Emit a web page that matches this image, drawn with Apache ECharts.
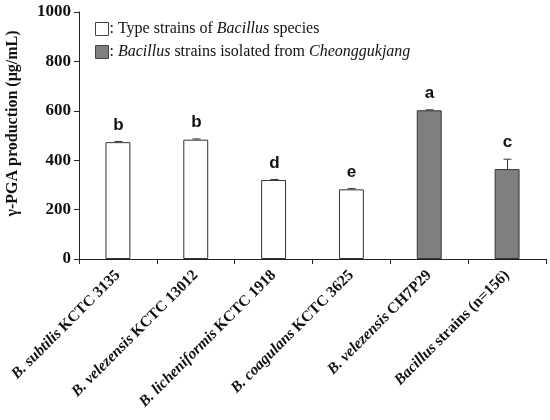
<!DOCTYPE html>
<html>
<head>
<meta charset="utf-8">
<style>
  html, body { margin: 0; padding: 0; background: #fff; }
  #main { width: 550px; height: 420px; }
</style>
</head>
<body>
<div id="main"></div>
<script src="https://cdn.jsdelivr.net/npm/echarts@6/dist/echarts.min.js"></script>
<script>
// category labels: italic part + plain part
var speciesNames = ['B. subtilis', 'B. velezensis', 'B. licheniformis', 'B. coagulans', 'B. velezensis', 'Bacillus'];
var strainNames = ['KCTC 3135', 'KCTC 13012', 'KCTC 1918', 'KCTC 3625', 'CH7P29', 'strains (n=156)'];
var categories = ['cat0', 'cat1', 'cat2', 'cat3', 'cat4', 'cat5'];
// 0 = type strain, 1 = isolated from Cheonggukjang
var groups = [0, 0, 0, 0, 1, 1];
var values = [473, 483, 320, 282, 602, 364];
var errors = [3, 3, 2, 3, 2, 40];
var letters = ['b', 'b', 'd', 'e', 'a', 'c'];
var yTicks = [0, 200, 400, 600, 800, 1000];

var serif = 'Liberation Serif';
var typeData = values.map(function (v, i) { return groups[i] === 0 ? v : '-'; });
var isoData = values.map(function (v, i) { return groups[i] === 1 ? v : '-'; });

var myChart = echarts.init(document.getElementById('main'));
myChart.setOption({
    animation: false,
    grid: { left: 79, right: 4, top: 12, bottom: 161, containLabel: false, outerBoundsMode: 'none' },
    legend: {
        orient: 'vertical',
        left: 90,
        top: 16,
        icon: 'rect',
        itemWidth: 13,
        itemHeight: 13,
        itemGap: 7,
        itemStyle: { borderColor: '#444', borderWidth: 1 },
        textStyle: {
            padding: [0, 0, 0, -4],
            rich: {
                n: { fontFamily: serif, fontSize: 16, color: '#111' },
                i: { fontFamily: serif, fontSize: 16, fontStyle: 'italic', color: '#111' }
            }
        },
        formatter: function (name) {
            if (name === 'type') return '{n|: Type strains of }{i|Bacillus}{n| species}';
            return '{n|: }{i|Bacillus}{n| strains isolated from }{i|Cheonggukjang}';
        },
        data: ['type', 'iso']
    },
    xAxis: {
        type: 'category',
        data: categories,
        axisLine: { lineStyle: { color: '#222', width: 1 } },
        axisTick: { show: true, length: 5, lineStyle: { color: '#222' } },
        axisLabel: {
            rotate: 45,
            margin: 14,
            interval: 0,
            formatter: function (v) {
                var i = categories.indexOf(v);
                return '{i|' + speciesNames[i] + '} {b|' + strainNames[i] + '}';
            },
            rich: {
                i: { fontFamily: serif, fontSize: 15.5, fontWeight: 'bold', fontStyle: 'italic', color: '#111' },
                b: { fontFamily: serif, fontSize: 15.5, fontWeight: 'bold', color: '#111' }
            }
        }
    },
    yAxis: {
        type: 'value',
        min: 0,
        max: 1000,
        interval: 200,
        name: 'γ-PGA production (μg/mL)',
        nameLocation: 'middle',
        nameGap: 58,
        nameTextStyle: { fontFamily: serif, fontSize: 16, fontWeight: 'bold', color: '#111', padding: [0, 0, 0, 24] },
        splitLine: { show: false },
        axisLine: { show: true, lineStyle: { color: '#222', width: 1 } },
        axisTick: { show: true, length: 5, lineStyle: { color: '#222' } },
        axisLabel: {
            fontFamily: serif, fontSize: 17, fontWeight: 'bold', color: '#111', margin: 8,
            formatter: function (v) { return yTicks.indexOf(v) >= 0 ? String(v) : ''; }
        }
    },
    series: [
        {
            name: 'type',
            type: 'bar',
            data: typeData,
            barWidth: '32%',
            barGap: '-100%',
            itemStyle: { color: '#ffffff', borderColor: '#333', borderWidth: 1 }
        },
        {
            name: 'iso',
            type: 'bar',
            data: isoData,
            barWidth: '32%',
            barGap: '-100%',
            itemStyle: { color: '#7f7f7f', borderColor: '#333', borderWidth: 1 }
        },
        {
            type: 'custom',
            silent: true,
            z: 5,
            data: values.map(function (v, i) { return [i, v, errors[i]]; }),
            renderItem: function (params, api) {
                var i = api.value(0);
                var top = api.coord([i, api.value(1) + api.value(2)]);
                var base = api.coord([i, api.value(1)]);
                var x = Math.round(top[0]) + 0.5;
                var cap = 4;
                return {
                    type: 'group',
                    children: [
                        { type: 'line', shape: { x1: x, y1: base[1], x2: x, y2: top[1] }, style: { stroke: '#333', lineWidth: 1 } },
                        { type: 'line', shape: { x1: x - cap, y1: top[1], x2: x + cap, y2: top[1] }, style: { stroke: '#333', lineWidth: 1 } },
                        {
                            type: 'text',
                            style: {
                                x: x, y: top[1] - 8,
                                text: letters[i],
                                fontFamily: 'Liberation Sans',
                                fontWeight: 'bold',
                                fontSize: 17,
                                fill: '#111',
                                align: 'center',
                                verticalAlign: 'bottom'
                            }
                        }
                    ]
                };
            }
        }
    ]
});
</script>
</body>
</html>
